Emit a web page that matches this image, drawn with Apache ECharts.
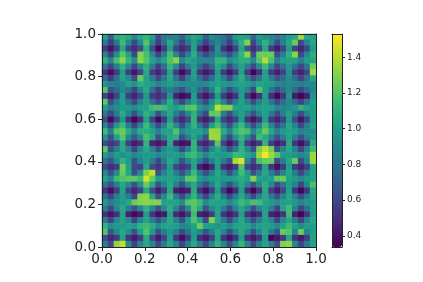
<!DOCTYPE html>
<html>
<head>
<meta charset="utf-8">
<style>html,body{margin:0;padding:0;background:#fff}#c{width:423px;height:282px}</style>
<script src="https://cdn.jsdelivr.net/npm/echarts@6/dist/echarts.min.js"></script>
</head>
<body>
<div id="c"></div>
<script>
const axisTicks = [0, 0.2, 0.4, 0.6, 0.8, 1];
const colorbarTicks = [0.4, 0.6, 0.8, 1.0, 1.2, 1.4];
const valueMin = 0.337;
const valueMax = 1.53;
const viridis = ['#440154','#482878','#3e4989','#31688e','#26828e','#1f9e89','#35b779','#6ece58','#b5de2b','#fde725'];
// rows listed from the top of the picture to the bottom
const rows = [
[1.02,.70,1.08,1.10,1.06,.90,1.05,1.12,1.00,.62,.82,.84,.86,.72,.95,1.05,1.00,.70,.92,.84,.80,.68,.98,1.02,1.00,.75,.98,.92,.90,.80,.88,1.00,1.05,1.36,1.05,1.02],
[.84,.56,.80,1.15,.90,.60,.90,1.20,.88,.55,.78,1.05,.80,.58,.82,1.00,.80,.56,.75,.90,.76,.56,.84,1.10,1.30,.60,.90,1.10,.92,.62,.84,1.05,1.25,.60,.86,1.05],
[.55,.40,.58,1.05,.60,.48,.62,1.10,.62,.35,.55,1.00,.58,.46,.56,1.02,.50,.38,.56,.95,.52,.40,.58,1.05,.66,.48,.62,1.05,.55,.42,.58,1.00,.58,.45,.60,1.00],
[.90,.56,.92,1.22,1.02,.60,1.30,1.18,.92,.58,.85,1.18,.90,.60,.85,1.08,.78,.60,.76,.92,.80,.62,.88,1.12,1.32,.62,1.25,1.25,1.25,.64,.85,1.10,1.32,.60,.90,1.08],
[1.10,.88,1.18,1.32,1.12,.92,1.32,1.20,1.02,.90,1.02,1.20,1.32,.92,1.05,1.00,.90,.88,.86,1.12,1.12,.90,1.00,1.08,1.08,.92,1.20,1.40,1.18,.85,1.00,1.02,1.02,.86,1.00,1.02],
[.80,.58,.85,1.10,.90,.60,.90,1.08,.84,.56,.78,1.12,.92,.58,.85,.98,.76,.58,.75,1.05,.95,.60,.84,1.02,.84,.60,.92,1.15,.90,.60,.78,.98,.80,.60,.80,1.25],
[.52,.38,.55,1.00,.56,.40,.58,1.05,.56,.45,.58,1.02,.55,.36,.52,1.00,.52,.42,.50,1.00,.55,.40,.56,1.02,.55,.35,.50,1.00,.55,.44,.58,.95,.55,.45,.60,1.35],
[.76,.54,.78,1.02,.90,.62,1.25,1.02,.84,.60,.80,1.05,.78,.56,.84,1.00,.78,.60,.76,1.02,.84,.60,.90,1.08,.85,.62,.80,1.02,.84,.64,.75,.90,.76,.58,.78,1.05],
[.96,.86,.85,.90,1.02,.95,1.08,1.02,.98,.88,.95,1.00,.95,.90,.92,.92,.90,.90,.98,1.02,.98,.95,1.00,1.02,1.00,.92,1.02,1.00,.98,.88,.85,.90,.88,.85,.88,.90],
[1.20,.64,.75,.90,.80,.60,.88,1.05,.78,.56,.78,.85,.75,.62,.84,.95,.76,.62,.84,1.12,.84,.62,.80,1.00,.86,.60,1.20,1.00,.80,.62,.76,.90,.75,.60,.75,.90],
[.60,.42,.58,1.00,.56,.45,.60,.98,.55,.48,.58,.95,.45,.36,.42,1.00,.52,.40,.55,1.00,.55,.40,.52,1.00,.55,.36,.50,1.00,.50,.35,.52,.95,.42,.35,.45,.95],
[1.22,.62,.84,1.00,.80,.60,.86,1.02,.80,.60,.80,1.08,.80,.58,.84,1.02,.80,.60,.90,1.10,.88,.60,.84,1.02,.86,.62,.86,1.00,.80,.60,.76,.90,.76,.58,.80,1.00],
[1.00,.85,.92,.98,.98,.92,1.00,1.02,1.15,1.18,1.15,1.05,1.00,1.08,1.20,1.22,.98,.90,1.02,1.42,1.30,1.30,1.02,1.00,1.02,.92,1.00,1.02,1.00,.88,.88,.90,.96,1.10,1.02,.98],
[.80,.60,.84,1.08,.88,.62,.90,1.10,.98,.64,.90,1.05,.85,.64,.90,1.10,.80,.60,1.22,1.25,.85,.62,.90,1.02,.85,.64,.90,1.02,.85,.62,.84,1.02,.85,.62,.88,1.00],
[.62,.36,.58,.98,.52,.34,.50,1.02,.58,.36,.55,1.00,.60,.46,.62,1.12,.52,.42,.55,1.05,.58,.46,.60,1.00,.52,.40,.52,1.00,.55,.45,.58,.98,.62,.40,.58,.98],
[.90,.60,.98,1.15,.85,.58,.88,1.15,.90,.62,.84,1.12,.90,.62,.92,1.12,.85,.60,1.00,1.18,.90,.62,.98,1.15,.90,.62,.88,1.15,.90,.64,.80,1.05,.88,.60,.85,1.02],
[1.15,.85,1.20,1.25,1.08,.88,1.08,1.08,1.02,.86,1.02,1.02,1.20,.90,.98,1.02,1.02,.92,1.35,1.32,1.08,.88,1.12,1.20,1.18,.90,1.08,1.25,1.05,.86,.98,1.02,1.00,.86,.90,.92],
[.95,.64,1.02,1.22,.90,.66,.90,1.18,1.05,.64,.88,1.05,1.08,.62,.85,1.02,.88,.62,1.35,1.35,.90,.60,.95,1.12,.90,.64,1.15,1.05,.88,.62,.85,1.02,.85,.62,.85,.95],
[.62,.52,.60,1.05,.56,.42,.50,1.10,.45,.40,.48,1.05,.45,.38,.42,1.12,.52,.45,.60,1.22,.58,.40,.55,1.05,.55,.44,.55,1.10,.56,.42,.50,1.05,.52,.38,.55,1.05],
[1.22,.62,.85,1.05,.88,.60,.90,1.05,.88,.62,.90,.98,.88,.60,.85,1.12,.80,.60,.90,1.05,.88,.62,.85,1.10,.90,.62,1.28,1.42,1.28,.62,.88,1.05,.88,.58,.88,1.15],
[1.00,.86,1.00,.95,.98,.88,.95,.98,.98,.90,.95,.98,1.00,.95,1.12,1.15,1.02,.88,1.02,1.00,.98,1.00,1.15,1.12,1.02,.95,1.35,1.53,1.35,1.22,.98,1.00,.95,.88,.95,1.35],
[.80,.64,.90,1.10,.98,.64,.88,1.00,.84,.60,.84,1.05,.95,.64,.90,1.05,.85,.62,.85,1.02,.85,.64,1.38,1.48,.90,.60,1.18,1.25,1.25,.62,.85,1.05,1.25,.60,.88,1.35],
[.62,.48,.56,1.28,1.02,.60,.58,1.05,.62,.52,.66,1.00,.60,.50,.58,1.02,.45,.36,.48,1.00,.50,.42,.56,1.20,.60,.48,.55,1.02,.52,.38,.55,1.00,.55,.45,.58,1.02],
[.90,.62,.90,1.25,1.05,.64,.90,1.30,1.42,.64,.88,1.02,.85,.64,.88,1.15,.85,.62,.85,1.05,.88,.62,.90,1.15,.98,.64,.84,1.05,.85,.64,.88,1.05,.85,.60,.84,1.02],
[1.02,.88,1.15,1.20,1.22,1.22,1.15,1.45,1.25,1.00,1.00,1.02,1.00,.92,1.22,1.22,1.00,.90,1.00,1.02,.98,.98,1.02,1.08,1.02,1.30,1.02,1.00,1.00,1.22,1.25,1.02,.98,.90,.98,1.02],
[.80,.62,.85,1.05,.90,.64,.92,1.25,1.05,.64,.88,1.05,.85,.62,.90,1.05,.80,.62,.85,1.05,.84,.62,.85,1.05,.88,.64,.90,1.08,.90,.60,.80,1.00,.88,.58,.90,1.18],
[.52,.38,.55,1.02,.60,.45,.58,1.05,.62,.42,.56,1.05,.45,.40,.45,1.08,.50,.38,.55,1.00,.55,.35,.50,1.00,.50,.35,.52,1.05,.55,.42,.60,1.00,.52,.35,.52,1.05],
[.80,.58,.84,1.00,.84,.58,1.30,1.32,1.05,.64,.90,1.15,.85,.62,.90,1.12,.84,.58,.88,1.08,.85,.60,.84,1.05,.85,.60,.88,1.05,.85,.64,.88,1.05,.88,.62,.85,1.02],
[.98,.85,.92,.98,1.05,1.25,1.30,1.32,1.30,1.30,1.02,1.02,1.02,.92,1.20,1.22,1.15,.92,1.05,1.02,1.02,.90,1.02,1.15,1.08,1.18,1.15,1.02,.98,.92,1.00,1.02,.96,.88,.96,.98],
[.85,.60,.90,1.05,.85,.64,.90,1.10,.90,.64,.90,1.08,.88,.62,.92,1.20,1.05,.64,.90,1.02,.85,.60,.88,1.05,.90,.62,.88,1.00,.85,.58,1.02,1.15,.88,.58,.78,1.00],
[.52,.40,.50,1.02,.45,.36,.42,1.00,.52,.38,.42,1.02,.48,.40,.55,1.15,.45,.40,.55,1.02,.52,.42,.52,1.00,.52,.42,.50,1.02,.45,.40,.52,1.15,.45,.34,.52,.98],
[.84,.58,.90,1.02,.90,.58,.88,1.02,.85,.64,.85,1.05,.88,.62,.98,1.20,1.02,.62,1.30,1.05,.84,.60,.88,1.05,.84,.62,.85,1.00,.88,.58,.90,1.05,.85,.58,.88,1.05],
[1.10,.92,.98,.98,1.02,.98,1.10,1.15,1.08,.92,1.02,1.02,1.00,.88,.92,1.02,1.25,1.02,1.00,.95,1.00,.92,1.02,1.05,1.02,.90,1.00,1.02,1.00,.90,1.02,1.15,1.02,.92,1.00,1.00],
[1.20,.64,.90,1.05,.92,.64,1.00,1.20,.98,.62,.85,.98,.85,.60,.80,1.00,.90,.64,.85,1.05,.88,.62,.88,1.05,.88,.62,.90,1.05,.84,.64,1.25,1.20,.88,1.25,.88,1.00],
[.62,.46,.55,1.02,.52,.42,.55,1.05,.60,.42,.58,1.00,.52,.38,.55,1.00,.50,.42,.55,1.02,.52,.40,.52,1.00,.50,.42,.52,1.00,.35,.42,.55,1.05,.52,.42,.55,1.02],
[.85,.60,1.32,1.42,.90,.56,.88,1.05,.88,.60,.84,1.05,.88,.58,.85,1.05,.84,.60,.88,1.10,.90,.62,.90,1.12,.88,.60,.88,1.02,.84,.62,1.30,1.32,.90,.60,.84,1.02]
];

const cellData = [];
rows.forEach((row, r) => row.forEach((v, c) => cellData.push([c, rows.length - 1 - r, v])));
const colCats = rows[0].map((_, i) => String(i));
const rowCats = rows.map((_, i) => String(i));

const ink = '#222';
const plotRect = {left: 102, top: 34, width: 214, height: 213};
const barRect = {left: 332, top: 34, width: 10, height: 213};
const fmt = v => Number(v).toFixed(1);
const lineStyle = {color: ink, width: 1};
const borderAxis = (gridIndex, position) => ({
  type: 'value', gridIndex, position, min: 0, max: 1, z: 6,
  axisLine: {show: true, onZero: false, lineStyle},
  axisTick: {show: false}, axisLabel: {show: false}, splitLine: {show: false}
});
const plotAxis = (position, margin) => ({
  type: 'value', gridIndex: 1, position, min: 0, max: 1, interval: 0.2, z: 6,
  axisLine: {show: true, onZero: false, lineStyle},
  axisTick: {show: true, length: 4, lineStyle},
  axisLabel: {show: true, margin, fontFamily: 'DejaVu Sans', fontSize: 13.5, color: ink, formatter: fmt,
    customValues: axisTicks},
  splitLine: {show: false}
});

const chart = echarts.init(document.getElementById('c'), null, {renderer: 'canvas', width: 423, height: 282});
chart.setOption({
  animation: false,
  backgroundColor: '#fff',
  grid: [
    Object.assign({}, plotRect, {show: false}),
    Object.assign({}, plotRect, {show: false}),
    Object.assign({}, barRect, {show: false})
  ],
  xAxis: [
    {type: 'category', gridIndex: 0, data: colCats, show: false},
    plotAxis('bottom', 5),
    borderAxis(1, 'top'),
    borderAxis(2, 'bottom'),
    borderAxis(2, 'top')
  ],
  yAxis: [
    {type: 'category', gridIndex: 0, data: rowCats, show: false},
    plotAxis('left', 6),
    borderAxis(1, 'right'),
    {
      type: 'value', gridIndex: 2, position: 'right', min: valueMin, max: valueMax, z: 6,
      axisLine: {show: true, onZero: false, lineStyle},
      axisTick: {show: true, length: 3, lineStyle, customValues: colorbarTicks},
      axisLabel: {show: true, margin: 5, fontFamily: 'DejaVu Sans', fontSize: 9, color: ink, formatter: fmt,
        customValues: colorbarTicks},
      splitLine: {show: false}
    },
    Object.assign(borderAxis(2, 'left'), {min: valueMin, max: valueMax})
  ],
  visualMap: {
    type: 'continuous', seriesIndex: 0, min: valueMin, max: valueMax,
    calculable: false, hoverLink: false, text: null, padding: 0,
    left: barRect.left, top: barRect.top, itemWidth: barRect.width, itemHeight: barRect.height,
    inRange: {color: viridis}, borderWidth: 0
  },
  series: [{
    type: 'heatmap', xAxisIndex: 0, yAxisIndex: 0, data: cellData,
    itemStyle: {borderWidth: 0}, emphasis: {disabled: true}, progressive: 0, silent: true
  }]
});
</script>
</body>
</html>
